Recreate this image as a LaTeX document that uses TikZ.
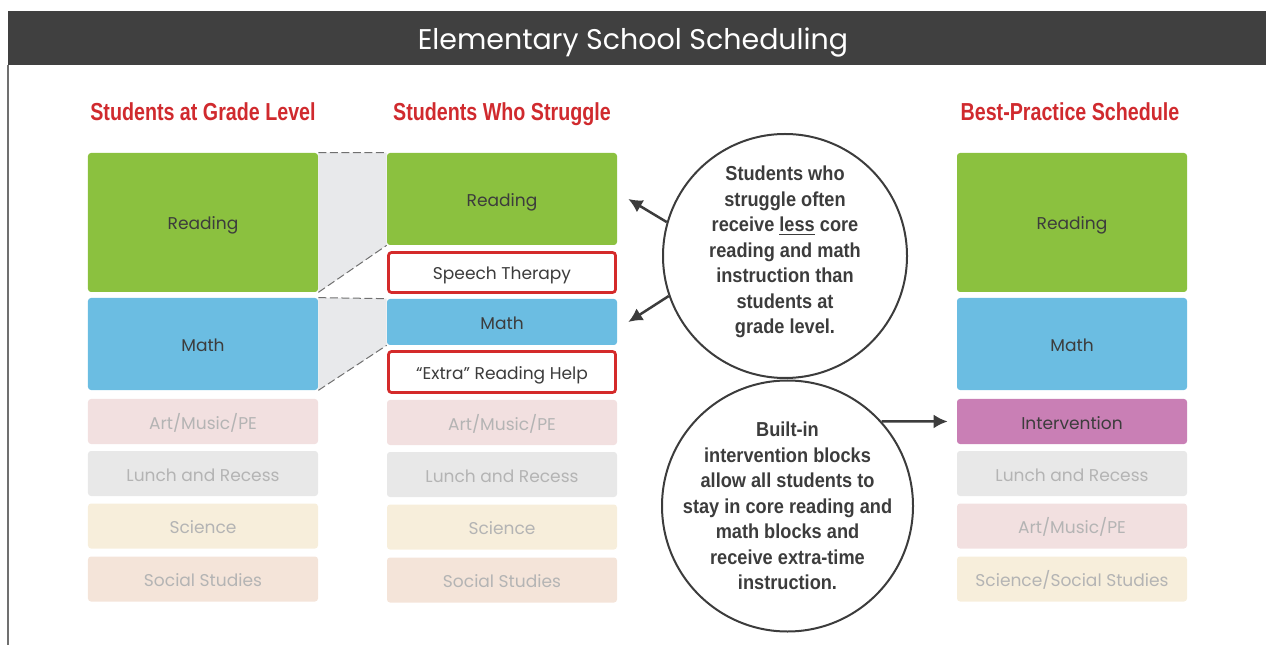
\documentclass[tikz,border=0pt]{standalone}
\usepackage{fontspec}
\setmainfont{Liberation Sans}
\newfontfamily\boxfont{Poppins}
\newfontfamily\headfont[FakeStretch=0.8]{Liberation Sans}
\newfontfamily\notefont[FakeStretch=0.9]{Liberation Sans}
\usetikzlibrary{arrows.meta}
\definecolor{bar}{HTML}{404040}
\definecolor{ink}{HTML}{3C3C3C}
\definecolor{fade}{HTML}{B4B4B4}
\definecolor{headred}{HTML}{D02A2E}
\definecolor{pullred}{HTML}{D42A2A}
\definecolor{readgreen}{HTML}{8BC13F}
\definecolor{mathblue}{HTML}{6BBDE2}
\definecolor{intpurple}{HTML}{C97FB5}
\definecolor{artpink}{HTML}{F2E0E0}
\definecolor{lunchgray}{HTML}{E8E8E8}
\definecolor{scicream}{HTML}{F7EEDB}
\definecolor{socpeach}{HTML}{F4E4D9}
\definecolor{gapgray}{HTML}{E8E9EB}
\definecolor{dashgray}{HTML}{707070}
\tikzset{
  >=latex,
}
\tikzstyle{slot}=[rectangle,rounded corners=0.6mm,minimum width=46mm,inner sep=0pt,text height=3mm,text depth=0pt,text=ink,font=\boxfont\fontsize{9.7}{11}\selectfont]
\tikzstyle{faded}=[slot,text=fade,minimum height=9mm]
\tikzstyle{pullout}=[slot,fill=white,draw=pullred,line width=0.55mm,minimum width=45.4mm]
\tikzstyle{head}=[anchor=base,text=headred,font=\headfont\bfseries\fontsize{14}{16}\selectfont]
\tikzstyle{note}=[circle,draw=ink,line width=0.4mm,inner sep=0pt]
\tikzstyle{notetext}=[align=center,inner sep=0pt,text=ink,font=\notefont\bfseries\fontsize{11.5}{14.5}\selectfont]
\tikzstyle{pointer}=[line width=0.5mm,draw=ink,-{Latex[length=2.8mm,width=2.8mm]}]
\tikzstyle{gapline}=[draw=dashgray,line width=0.2mm,dash pattern=on 1.6mm off 0.7mm]

\begin{document}
\begin{tikzpicture}[x=0.2mm,y=-0.2mm]
  \useasboundingbox (0,0) rectangle (1266,645);
  % title bar and frame
  \fill[bar] (8,11) rectangle (1266,65);
  \node[text=white,font=\boxfont\fontsize{16.2}{19}\selectfont] (title) at (633,43) {Elementary School Scheduling};
  \draw[dashgray,line width=0.3mm] (8,65) -- (8,645);

  % column heads
  \node[head] (h1) at (203,121) {Students at Grade Level};
  \node[head] (h2) at (502,121) {Students Who Struggle};
  \node[head] (h3) at (1070,121) {Best-Practice Schedule};

  % grade level
  \node[slot,fill=readgreen,minimum height=27.8mm] (rd1) at (203,222.5) {Reading};
  \node[slot,fill=mathblue,minimum height=18.4mm] (mt1) at (203,344) {Math};
  \node[faded,fill=artpink] (ar1) at (203,421.5) {Art/Music/PE};
  \node[faded,fill=lunchgray] (lu1) at (203,473.5) {Lunch and Recess};
  \node[faded,fill=scicream] (sc1) at (203,526) {Science};
  \node[faded,fill=socpeach] (so1) at (203,579) {Social Studies};

  % who struggle
  \node[slot,fill=readgreen,minimum height=18.4mm] (rd2) at (502,199) {Reading};
  \node[pullout,minimum height=8mm] (sp2) at (502,272.5) {Speech Therapy};
  \node[slot,fill=mathblue,minimum height=9.2mm] (mt2) at (502,322) {Math};
  \node[pullout,minimum height=8.2mm] (ex2) at (502,372) {“Extra” Reading Help};
  \node[faded,fill=artpink] (ar2) at (502,422.5) {Art/Music/PE};
  \node[faded,fill=lunchgray] (lu2) at (502,474.5) {Lunch and Recess};
  \node[faded,fill=scicream] (sc2) at (502,527) {Science};
  \node[faded,fill=socpeach] (so2) at (502,580) {Social Studies};

  % lost time
  \fill[gapgray] (rd1.north east) -- (rd2.north west) -- (rd2.south west) -- (rd1.south east) -- cycle;
  \fill[gapgray] (mt1.north east) -- (mt2.north west) -- (mt2.south west) -- (mt1.south east) -- cycle;
  \draw[gapline] (rd1.north east) -- (rd2.north west);
  \draw[gapline] (rd1.south east) -- (rd2.south west);
  \draw[gapline] (mt1.north east) -- (mt2.north west);
  \draw[gapline] (mt1.south east) -- (mt2.south west);

  % best practice
  \node[slot,fill=readgreen,minimum height=27.8mm] (rd3) at (1072,222.5) {Reading};
  \node[slot,fill=mathblue,minimum height=18.4mm] (mt3) at (1072,344) {Math};
  \node[slot,fill=intpurple,minimum height=9mm] (iv3) at (1072,421.5) {Intervention};
  \node[faded,fill=lunchgray] (lu3) at (1072,473.5) {Lunch and Recess};
  \node[faded,fill=artpink] (ar3) at (1072,526) {Art/Music/PE};
  \node[faded,fill=scicream] (ss3) at (1072,579) {Science/Social Studies};

  % notes
  \node[note,minimum size=48.8mm] (c1) at (785,256) {};
  \node[notetext] (t1) at (785,252) {Students who\\struggle often\\receive \underline{less} core\\reading and math\\instruction than\\students at\\grade level.};
  \node[note,minimum size=50.2mm] (c2) at (787.5,506) {};
  \node[notetext] (t2) at (787.5,506) {Built-in\\intervention blocks\\allow all students to\\stay in core reading and\\math blocks and\\receive extra-time\\instruction.};

  \draw[pointer] (c1.164) -- ([xshift=2.2mm]rd2.east);
  \draw[pointer] (c1.199) -- ([xshift=2.2mm]mt2.east);
  \draw[pointer] (c2.42) -- ([xshift=-1.8mm]iv3.west);
\end{tikzpicture}
\end{document}
